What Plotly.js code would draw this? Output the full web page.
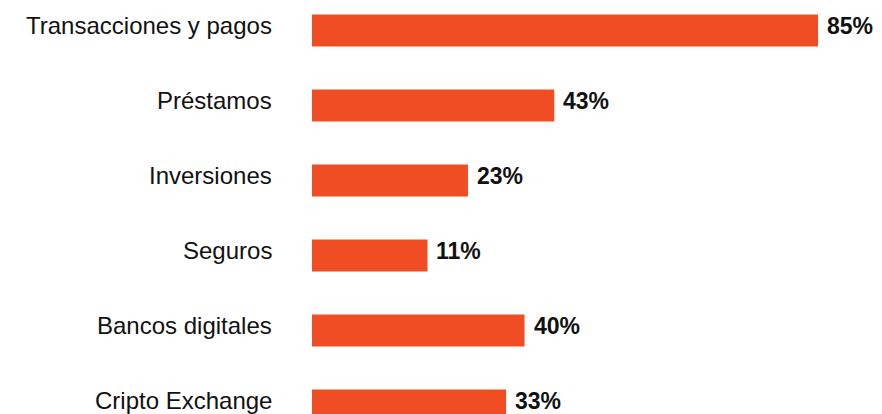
<!DOCTYPE html>
<html>
<head>
<meta charset="utf-8">
<script src="https://cdn.plot.ly/plotly-3.0.1.min.js"></script>
<style>html,body{margin:0;padding:0;background:#fff;}#chart{width:882px;height:414px;}</style>
</head>
<body>
<div id="chart"></div>
<script>
const categories = ["Transacciones y pagos", "Préstamos", "Inversiones", "Seguros", "Bancos digitales", "Cripto Exchange"];
// bar lengths as drawn in the picture (scaled so the first bar reads 85)
const barLength = [85, 40.7, 26.2, 19.4, 35.7, 32.6];
// value labels printed next to the bars
const valueLabels = ["85%", "43%", "23%", "11%", "40%", "33%"];

const fontFam = '"Helvetica Neue", Helvetica, Arial, "Liberation Sans", sans-serif';

const catAnnotations = categories.map(c => ({
  xref: 'x', yref: 'y', x: 0, y: c, text: c, showarrow: false,
  xanchor: 'right', yanchor: 'middle', xshift: -39, yshift: 5, borderpad: 0,
  font: {family: fontFam, size: 24, color: '#111111'}
}));
const valAnnotations = categories.map((c, i) => ({
  xref: 'x', yref: 'y', x: barLength[i], y: c, text: valueLabels[i], showarrow: false,
  xanchor: 'left', yanchor: 'middle', xshift: 8, yshift: 5, borderpad: 0,
  font: {family: fontFam, size: 23, color: '#111111', weight: 'bold'}
}));

Plotly.newPlot('chart', [{
  type: 'bar',
  orientation: 'h',
  y: categories,
  x: barLength,
  marker: {color: '#F14D24'},
  width: 0.427,
  hoverinfo: 'none'
}], {
  width: 882, height: 414,
  margin: {l: 312, r: 0, t: 0, b: 0, pad: 0},
  paper_bgcolor: '#ffffff', plot_bgcolor: '#ffffff',
  showlegend: false,
  xaxis: {range: [0, 95.75], visible: false, fixedrange: true},
  yaxis: {
    type: 'category',
    range: [5.1133, -0.4067],
    showgrid: false, zeroline: false, showline: false,
    ticks: '', showticklabels: false
  },
  annotations: catAnnotations.concat(valAnnotations),
  font: {family: fontFam}
}, {staticPlot: true});
</script>
</body>
</html>
